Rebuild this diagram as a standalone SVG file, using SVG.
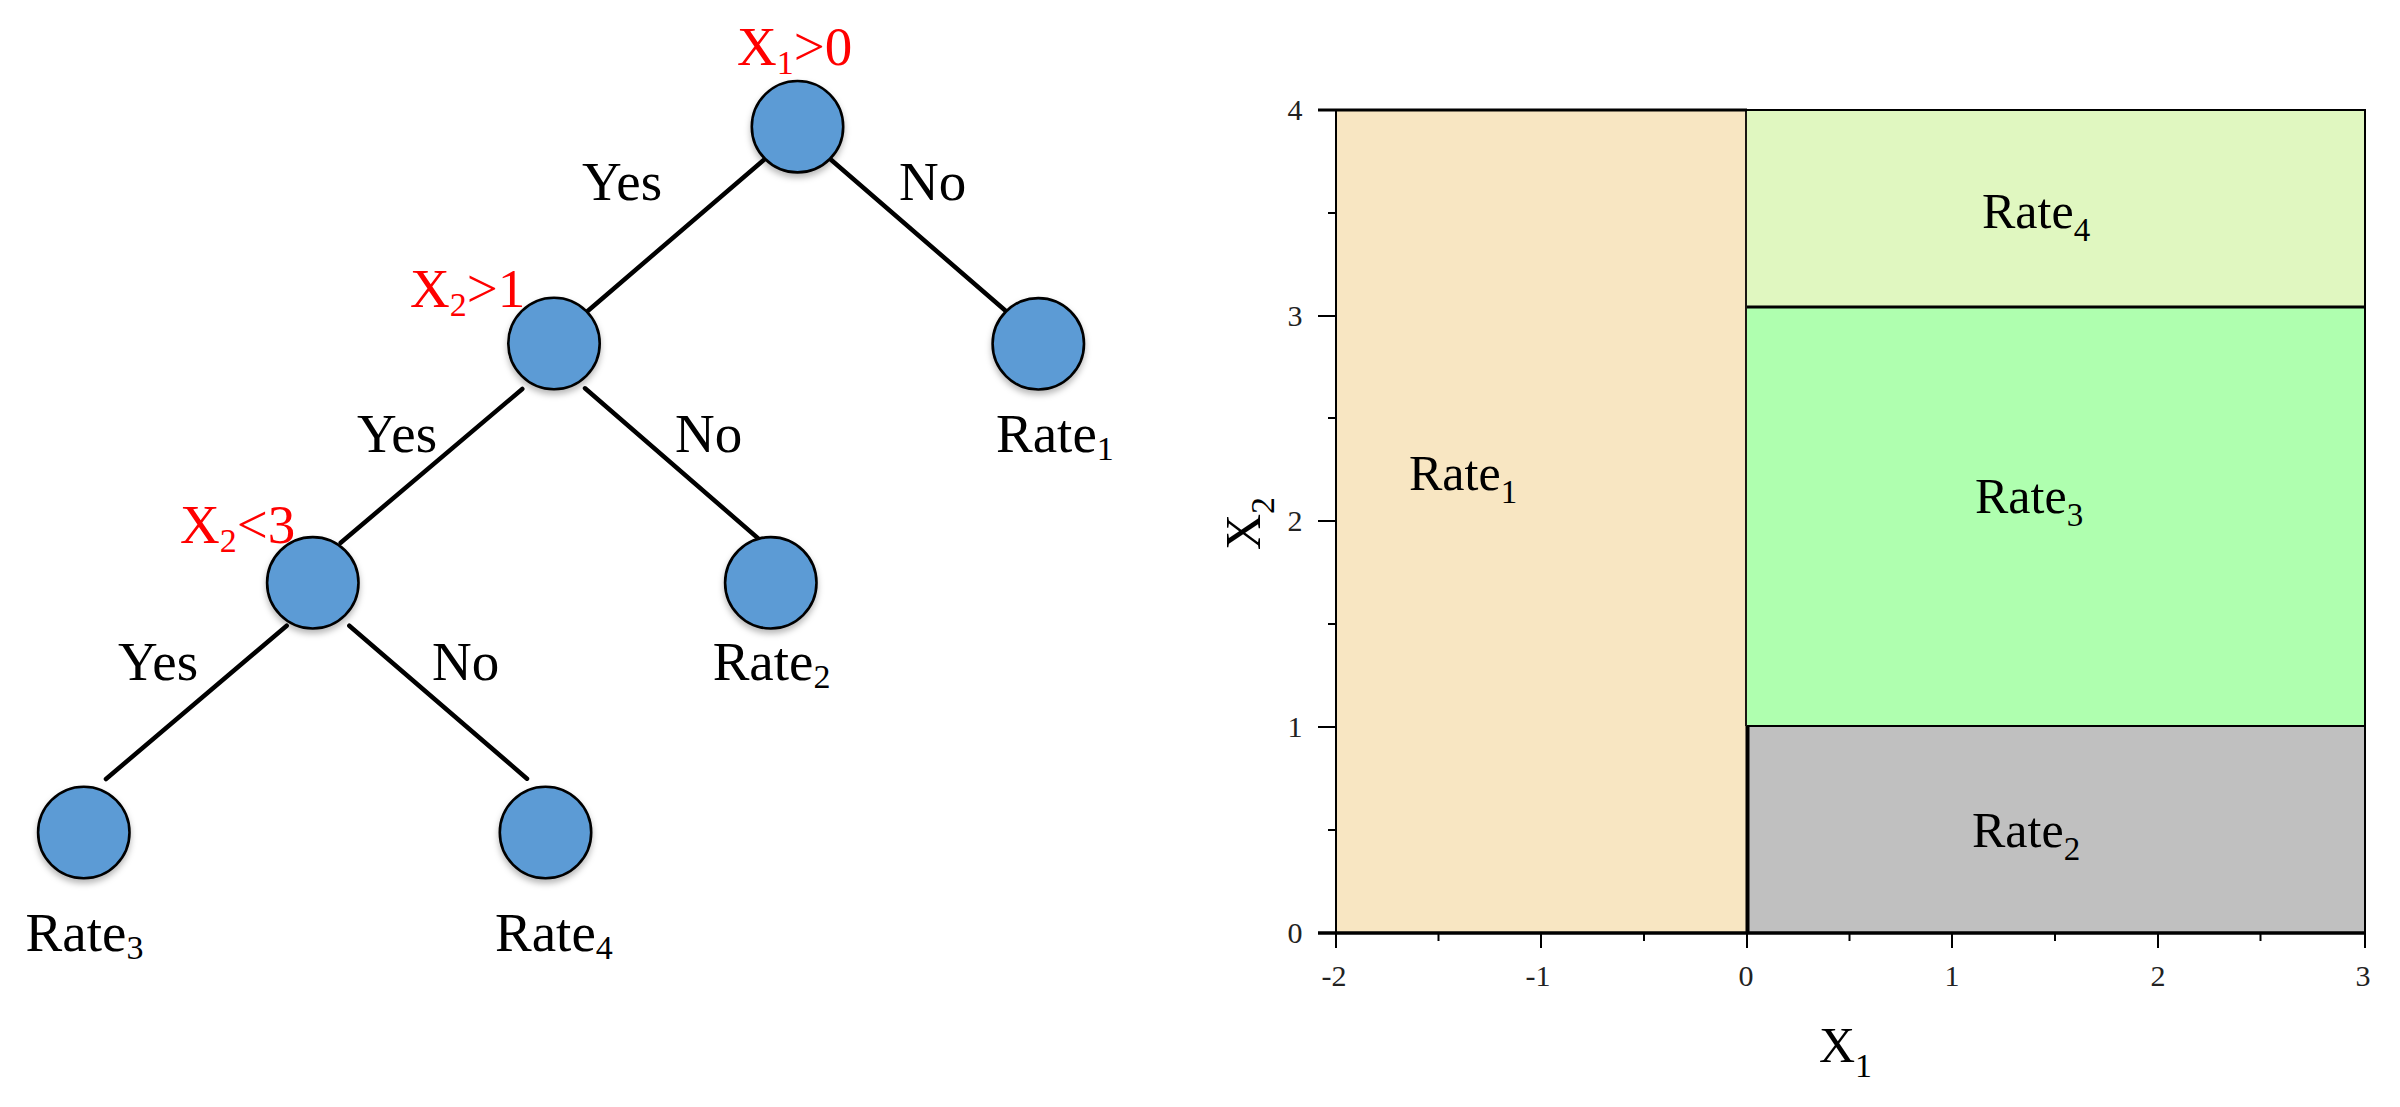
<svg xmlns="http://www.w3.org/2000/svg" width="2400" height="1107" viewBox="0 0 2400 1107">
<style>
text{font-family:"Liberation Serif","Times New Roman",serif;}
.lbl{font-size:55px;fill:#000;}
.cond{font-size:55px;fill:#ff0000;}
.sub{font-size:34px;}
.node{fill:#5b9bd5;stroke:#000;stroke-width:2.6;filter:url(#sh);}
.edge{stroke:#000;stroke-width:4.5;stroke-linecap:round;fill:none;}
.tick{font-size:30px;fill:#222;text-anchor:middle;}
.rl{font-size:50px;fill:#000;}
.rsub{font-size:33px;}
.ax{stroke:#000;fill:none;}
</style>
<defs>
<filter id="sh" x="-30%" y="-30%" width="160%" height="170%">
<feDropShadow dx="0" dy="4" stdDeviation="3" flood-color="#000" flood-opacity="0.28"/>
</filter>
</defs>
<rect width="2400" height="1107" fill="#fff"/>

<g id="connectors">
<line class="edge" x1="765.7" y1="158.3" x2="585.7" y2="312.7"/>
<line class="edge" x1="829.3" y1="158.3" x2="1006.7" y2="311.7"/>
<line class="edge" x1="522.3" y1="389" x2="340.7" y2="542.7"/>
<line class="edge" x1="585" y1="388.3" x2="762.7" y2="542.3"/>
<line class="edge" x1="286.7" y1="625.7" x2="106" y2="779"/>
<line class="edge" x1="349.3" y1="625.7" x2="527" y2="778.7"/>
<text class="lbl" x="582" y="200">Yes</text>
<text class="lbl" x="899" y="200">No</text>
<text class="lbl" x="357" y="452">Yes</text>
<text class="lbl" x="675" y="452">No</text>
<text class="lbl" x="118" y="680">Yes</text>
<text class="lbl" x="432" y="680">No</text>
</g>

<g id="n-root">
<circle class="node" cx="797.5" cy="126.7" r="45.7"/>
<text class="cond" x="737" y="65">X<tspan class="sub" dy="9">1</tspan><tspan dy="-9">&gt;0</tspan></text>
</g>
<g id="n-x2gt1">
<circle class="node" cx="554" cy="343.5" r="45.7"/>
<text class="cond" x="410" y="307">X<tspan class="sub" dy="9">2</tspan><tspan dy="-9">&gt;1</tspan></text>
</g>
<g id="n-rate1">
<circle class="node" cx="1038.3" cy="343.8" r="45.7"/>
<text class="lbl" x="996" y="452">Rate<tspan class="sub" dy="8">1</tspan></text>
</g>
<g id="n-x2lt3">
<circle class="node" cx="312.8" cy="582.8" r="45.7"/>
<text class="cond" x="180" y="543">X<tspan class="sub" dy="9">2</tspan><tspan dy="-9">&lt;3</tspan></text>
</g>
<g id="n-rate2">
<circle class="node" cx="770.8" cy="582.8" r="45.7"/>
<text class="lbl" x="712.7" y="680">Rate<tspan class="sub" dy="8">2</tspan></text>
</g>
<g id="n-rate3">
<circle class="node" cx="83.8" cy="832.5" r="45.7"/>
<text class="lbl" x="25.6" y="951">Rate<tspan class="sub" dy="8">3</tspan></text>
</g>
<g id="n-rate4">
<circle class="node" cx="545.5" cy="832.5" r="45.7"/>
<text class="lbl" x="495" y="951">Rate<tspan class="sub" dy="8">4</tspan></text>
</g>

<g id="chart">
<rect x="1336" y="110" width="411" height="823" fill="#f8e6c2"/>
<rect x="1747" y="110" width="618" height="197" fill="#e0f7c0"/>
<rect x="1747" y="307" width="618" height="419" fill="#afffaf"/>
<rect x="1747" y="726" width="618" height="207" fill="#c0c0c0"/>
<text class="rl" x="1409" y="490">Rate<tspan class="rsub" dy="13">1</tspan></text>
<text class="rl" x="1982" y="228">Rate<tspan class="rsub" dy="13">4</tspan></text>
<text class="rl" x="1975" y="513">Rate<tspan class="rsub" dy="13">3</tspan></text>
<text class="rl" x="1972" y="847">Rate<tspan class="rsub" dy="13">2</tspan></text>
<line class="ax" x1="1747" y1="307" x2="2365" y2="307" stroke-width="3"/>
<line class="ax" x1="1747" y1="726" x2="2365" y2="726" stroke-width="2"/>
<line class="ax" x1="1746" y1="110" x2="1746" y2="726" stroke-width="1.8"/>
<line class="ax" x1="1747.5" y1="726" x2="1747.5" y2="933" stroke-width="4"/>
<line class="ax" x1="1747" y1="110" x2="2365" y2="110" stroke="#333" stroke-width="2"/>
<line class="ax" x1="2365" y1="109" x2="2365" y2="948" stroke="#222" stroke-width="2"/>
<line class="ax" x1="1318" y1="110" x2="1747" y2="110" stroke-width="3.2"/>
<line class="ax" x1="1336" y1="110" x2="1336" y2="948" stroke-width="2"/>
<line class="ax" x1="1318" y1="933" x2="2366" y2="933" stroke-width="3.5"/>
<g class="ax" stroke-width="2">
<path d="M1318 316H1336M1318 521H1336M1318 727H1336M1328 213H1336M1328 418H1336M1328 624H1336M1328 830H1336"/>
<path d="M1541 933V948M1747 933V948M1952 933V948M2158 933V948M1438.5 933V941M1644 933V941M1849.5 933V941M2055 933V941M2260.5 933V941"/>
</g>
<text class="tick" x="1295" y="120">4</text>
<text class="tick" x="1295" y="326">3</text>
<text class="tick" x="1295" y="531">2</text>
<text class="tick" x="1295" y="737">1</text>
<text class="tick" x="1295" y="943">0</text>
<text class="tick" x="1334" y="986">-2</text>
<text class="tick" x="1538" y="986">-1</text>
<text class="tick" x="1746" y="986">0</text>
<text class="tick" x="1952" y="986">1</text>
<text class="tick" x="2158" y="986">2</text>
<text class="tick" x="2363" y="986">3</text>
<text class="rl" x="1819" y="1062" font-size="52">X<tspan font-size="34" dy="15">1</tspan></text>
<text class="rl" font-size="52" transform="translate(1260 550) rotate(-90)">X<tspan font-size="34" dy="14">2</tspan></text>
</g>
</svg>
